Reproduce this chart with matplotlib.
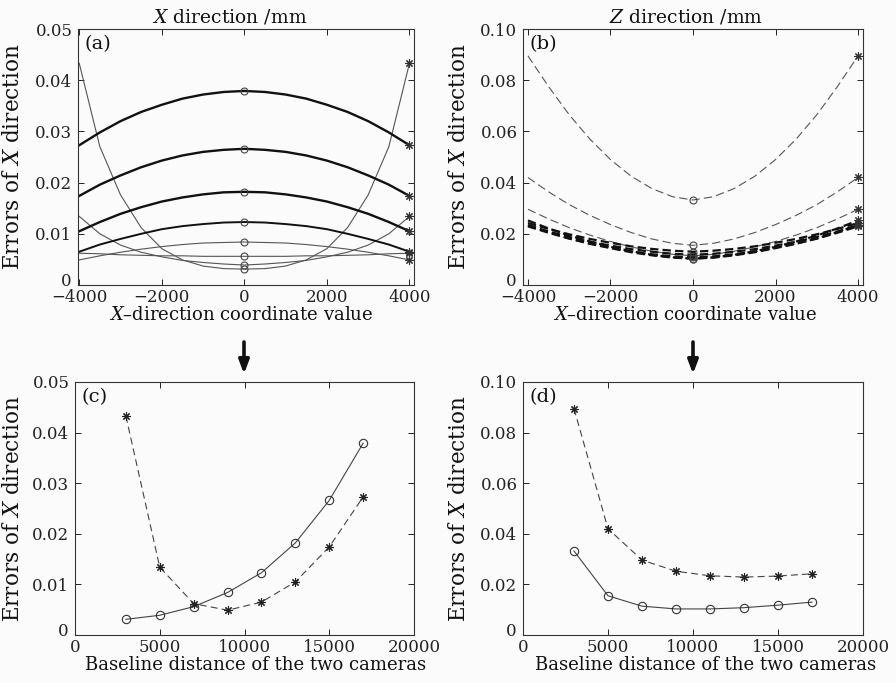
import matplotlib
matplotlib.use("Agg")
import matplotlib.pyplot as plt
from matplotlib.ticker import FuncFormatter
from matplotlib.transforms import ScaledTranslation

plt.rcParams["font.family"] = "DejaVu Serif"
plt.rcParams["mathtext.fontset"] = "dejavuserif"
plt.rcParams["lines.scale_dashes"] = False

baselines = [3000, 5000, 7000, 9000, 11000, 13000, 15000, 17000]
x_half = [-4000, -3500, -3000, -2500, -2000, -1500, -1000, -500, 0]

# (a) error of X along X, left half; curves are symmetric about x = 0
xerr_3000 = [0.0433, 0.0270, 0.0176, 0.0112, 0.0071, 0.0049, 0.0037, 0.0032, 0.0031]
xerr_5000 = [0.0134, 0.0100, 0.0078, 0.0064, 0.0055, 0.0048, 0.0044, 0.0041, 0.0039]
xerr_7000 = [0.0062, 0.0061, 0.0059, 0.0058, 0.0057, 0.0057, 0.0056, 0.0056, 0.0056]
xerr_9000 = [0.0049, 0.0057, 0.0064, 0.0070, 0.0075, 0.0079, 0.0082, 0.0083, 0.0084]
xerr_11000 = [0.0065, 0.0079, 0.0090, 0.0100, 0.0109, 0.0115, 0.0119, 0.0122, 0.0123]
xerr_13000 = [0.0105, 0.0123, 0.0139, 0.0152, 0.0163, 0.0171, 0.0177, 0.0181, 0.0182]
xerr_15000 = [0.0174, 0.0196, 0.0214, 0.0230, 0.0243, 0.0253, 0.0260, 0.0264, 0.0266]
xerr_17000 = [0.0273, 0.0298, 0.0320, 0.0338, 0.0352, 0.0364, 0.0372, 0.0377, 0.0379]

# (b) error of X along Z, left half
zerr_3000 = [0.0895, 0.0775, 0.0665, 0.0570, 0.0490, 0.0425, 0.0377, 0.0345, 0.0332]
zerr_5000 = [0.0420, 0.0364, 0.0314, 0.0272, 0.0236, 0.0205, 0.0180, 0.0163, 0.0155]
zerr_7000 = [0.0296, 0.0258, 0.0224, 0.0195, 0.0170, 0.0149, 0.0132, 0.0120, 0.0114]
zerr_9000 = [0.0252, 0.0221, 0.0193, 0.0170, 0.0149, 0.0132, 0.0118, 0.0108, 0.0103]
zerr_11000 = [0.0234, 0.0207, 0.0182, 0.0161, 0.0144, 0.0128, 0.0116, 0.0107, 0.0103]
zerr_13000 = [0.0229, 0.0204, 0.0181, 0.0162, 0.0146, 0.0131, 0.0120, 0.0112, 0.0108]
zerr_15000 = [0.0233, 0.0209, 0.0188, 0.0169, 0.0154, 0.0140, 0.0130, 0.0122, 0.0118]
zerr_17000 = [0.0242, 0.0219, 0.0198, 0.0180, 0.0165, 0.0151, 0.0141, 0.0134, 0.0130]

xerr = [xerr_3000, xerr_5000, xerr_7000, xerr_9000, xerr_11000, xerr_13000, xerr_15000, xerr_17000]
zerr = [zerr_3000, zerr_5000, zerr_7000, zerr_9000, zerr_11000, zerr_13000, zerr_15000, zerr_17000]

x_full = x_half + [-v for v in x_half[-2::-1]]
ASTER = (8, 2, 0)
BG = "#fbfbfb"


def full(half):
    return half + half[-2::-1]


def yfmt(v, _):
    return "0" if abs(v) < 1e-12 else f"{v:.2f}"


def style(ax, ylim, yticks, xlim, xticks, tag, ylab_x):
    ax.set_facecolor(BG)
    ax.set_xlim(*xlim)
    ax.set_ylim(*ylim)
    ax.set_xticks(xticks)
    ax.set_yticks(yticks)
    ax.yaxis.set_major_formatter(FuncFormatter(yfmt))
    ax.tick_params(direction="in", top=True, right=True, length=4,
                   width=0.7, labelsize=12, colors="#222")
    ax.tick_params(axis="y", pad=4)
    ax.tick_params(axis="x", pad=3)
    for s in ax.spines.values():
        s.set_linewidth(0.8)
        s.set_color("#333")
    # lift the "0" y label a little so it clears the first x label
    zero = ax.get_yticklabels()[0]
    zero.set_transform(zero.get_transform() +
                       ScaledTranslation(-1 / 72, 4 / 72, fig.dpi_scale_trans))
    ax.set_ylabel("Errors of $X$ direction", fontsize=15.5, color="#111")
    ax.yaxis.set_label_coords(ylab_x, 0.5)
    ax.text(0.02, 0.975, tag, transform=ax.transAxes, ha="left", va="top",
            fontsize=14, color="#111")


fig = plt.figure(figsize=(8.96, 6.83), dpi=100, facecolor=BG)
W, H = 896, 683


def add_axes(l, t, r, b):
    return fig.add_axes([l / W, (H - b) / H, (r - l) / W, (b - t) / H])


ax_a = add_axes(78, 29, 414, 285)
ax_b = add_axes(523, 29, 863, 285)
ax_c = add_axes(75, 382, 414, 635)
ax_d = add_axes(523, 382, 863, 635)

# (a)
for i, half in enumerate(xerr):
    y = full(half)
    if i >= 4:
        ax_a.plot(x_full, y, color="#111", lw=1.7 if i >= 5 else 1.4)
    else:
        ax_a.plot(x_full, y, color="#555", lw=0.8)
    ax_a.plot(0, half[-1], "o", ms=5, mfc="none", mec="#444", mew=0.8)
    ax_a.plot(4000, half[0], marker=ASTER, ms=6, color="#333", mew=0.8)
style(ax_a, (0, 0.05), [0, 0.01, 0.02, 0.03, 0.04, 0.05], (-4030, 4110),
      [-4000, -2000, 0, 2000, 4000], "(a)", -0.16)
ax_a.set_title("$X$ direction /mm", fontsize=13.5, pad=5, color="#111", x=0.452)
ax_a.set_xlabel("$X$\u2013direction coordinate value", fontsize=13,
                labelpad=0, color="#111")
ax_a.xaxis.label.set_x(0.485)

# (b)
for i, half in enumerate(zerr):
    y = full(half)
    if i >= 3:
        ax_b.plot(x_full, y, color="#111", lw=1.6, dashes=(6, 3))
    else:
        ax_b.plot(x_full, y, color="#555", lw=0.8, dashes=(6, 3))
    ax_b.plot(0, half[-1], "o", ms=5, mfc="none", mec="#444", mew=0.8)
    ax_b.plot(4000, half[0], marker=ASTER, ms=6, color="#333", mew=0.8)
style(ax_b, (0, 0.1), [0, 0.02, 0.04, 0.06, 0.08, 0.10], (-4120, 4120),
      [-4000, -2000, 0, 2000, 4000], "(b)", -0.155)
ax_b.set_title("$Z$ direction /mm", fontsize=13.5, pad=5, color="#111", x=0.479)
ax_b.set_xlabel("$X$\u2013direction coordinate value", fontsize=13,
                labelpad=0, color="#111")
ax_b.xaxis.label.set_x(0.476)

# (c) and (d): value at x = 0 (circles) and at x = 4000 (asterisks)
for ax, data, ylim, yt, tag, lx, tx in [
    (ax_c, xerr, (0, 0.05), [0, 0.01, 0.02, 0.03, 0.04, 0.05], "(c)", -0.15, 0.534),
    (ax_d, zerr, (0, 0.1), [0, 0.02, 0.04, 0.06, 0.08, 0.10], "(d)", -0.155, 0.538),
]:
    centre = [h[-1] for h in data]
    edge = [h[0] for h in data]
    ax.plot(baselines, centre, "-", color="#444", lw=0.8, marker="o", ms=6,
            mfc="none", mec="#333", mew=0.8)
    ax.plot(baselines, edge, color="#444", lw=0.8, dashes=(5, 3),
            marker=ASTER, ms=6, mec="#222", mew=0.8)
    style(ax, ylim, yt, (0, 20000), [0, 5000, 10000, 15000, 20000], tag, lx)
    ax.set_xlabel("Baseline distance of the two cameras", fontsize=13,
                  labelpad=0, color="#111")
    ax.xaxis.label.set_x(tx)

# arrows from the top row to the bottom row
over = fig.add_axes([0, 0, 1, 1], facecolor="none")
over.set_axis_off()
over.set_xlim(0, W)
over.set_ylim(H, 0)
for xp in (244, 693):
    over.annotate("", xy=(xp, 374), xytext=(xp, 342),
                  arrowprops=dict(arrowstyle="-|>,head_width=0.3,head_length=0.8",
                                  lw=2.6, color="#111", shrinkA=0, shrinkB=0))

fig.savefig("out.png", dpi=100, facecolor=BG)
